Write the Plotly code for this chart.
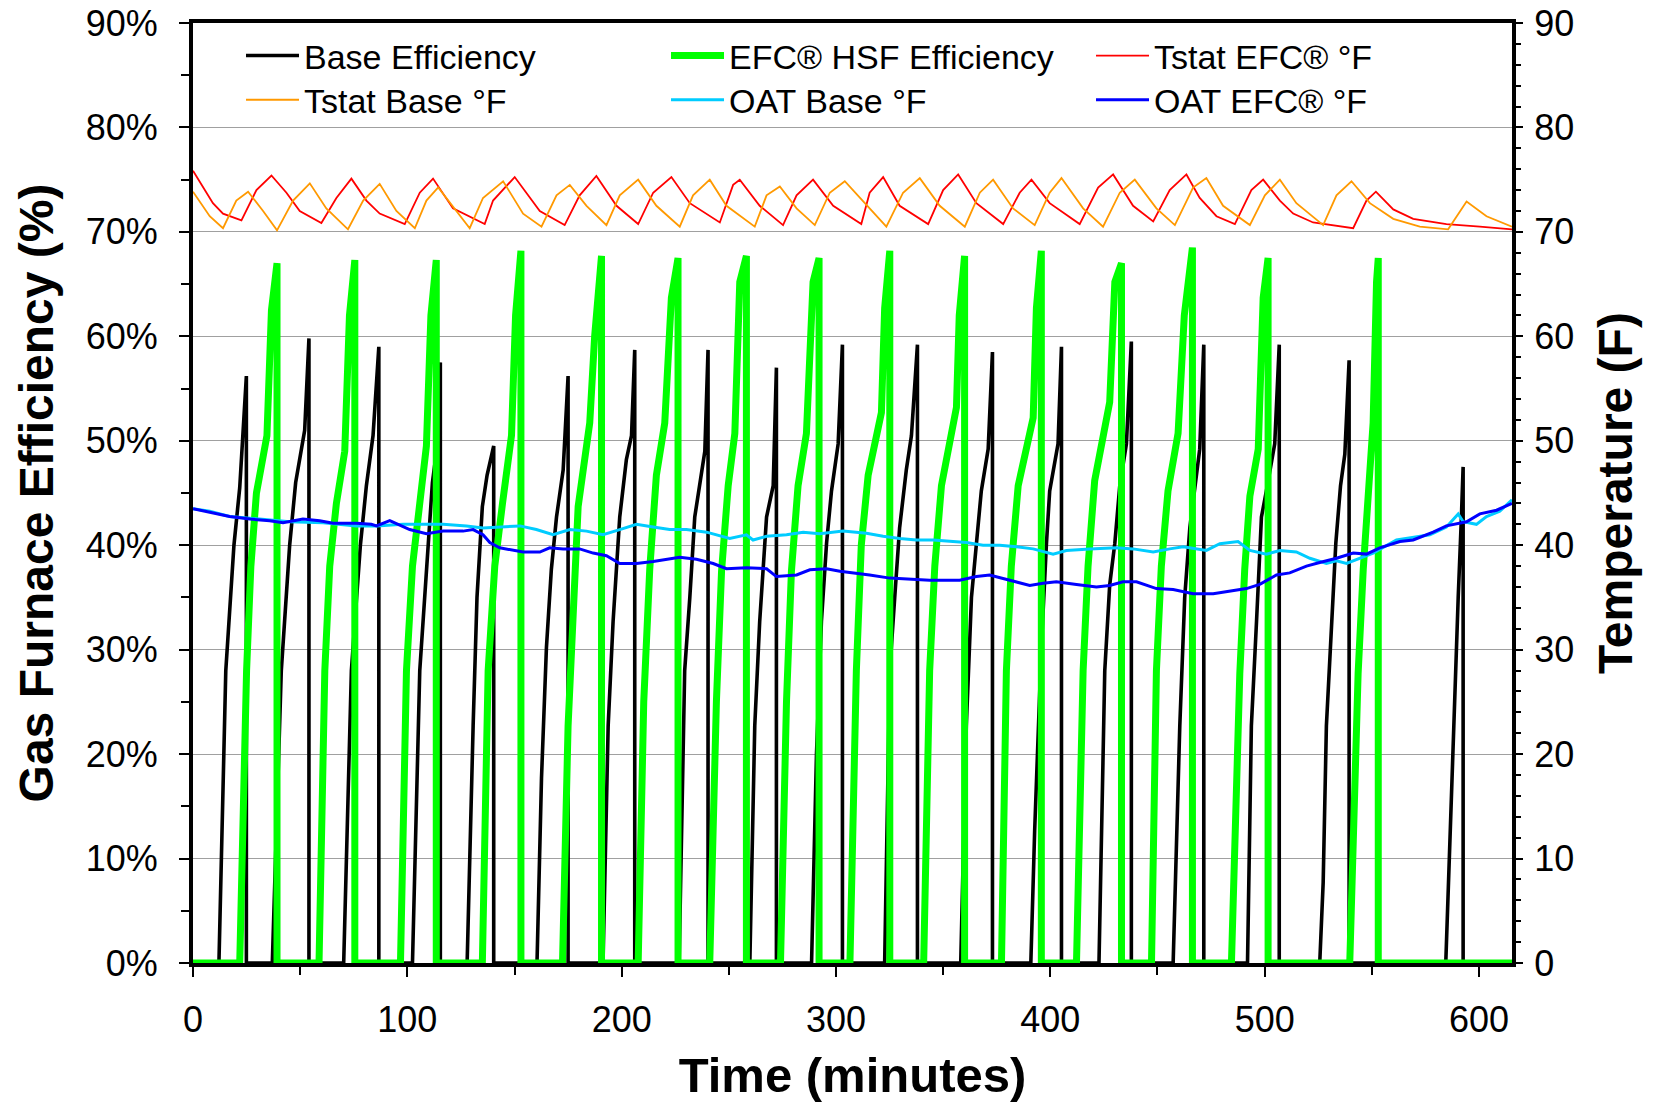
import plotly.graph_objects as go

# ---------------- data ----------------
# Base furnace efficiency (%), one list per firing cycle (time in minutes)
base_cycles_t = [
    [0.0],
    [12.1, 15.3, 19.1, 21.8, 24.9, 24.9],
    [37.0, 41.2, 45.1, 47.9, 52.1, 54.1, 54.1],
    [70.3, 73.9, 78.1, 80.9, 84.0, 86.7, 86.7],
    [102.4, 105.8, 109.7, 111.7, 113.6, 115.4, 115.4],
    [127.9, 130.7, 132.5, 135.0, 137.2, 140.3, 140.3],
    [160.5, 162.6, 164.9, 167.2, 169.6, 172.7, 175.0, 175.0],
    [191.3, 193.7, 196.0, 199.1, 202.2, 204.6, 206.1, 206.1],
    [226.8, 229.4, 231.8, 234.1, 238.8, 240.3, 240.3],
    [259.8, 262.1, 264.4, 267.6, 270.7, 272.2, 272.2],
    [288.6, 290.9, 293.2, 295.6, 297.9, 301.0, 303.0, 303.0],
    [322.7, 325.1, 327.4, 329.7, 332.8, 335.2, 338.0, 338.0],
    [358.2, 360.8, 363.2, 365.5, 367.8, 371.0, 373.0, 373.0],
    [390.9, 392.7, 395.8, 398.2, 399.7, 403.6, 405.2, 405.2],
    [422.7, 425.4, 427.7, 430.1, 432.4, 435.5, 437.8, 437.8],
    [457.3, 460.4, 462.7, 465.1, 467.4, 469.7, 471.6, 471.6],
    [492.0, 493.8, 496.2, 498.5, 500.8, 504.7, 506.8, 506.8],
    [525.7, 527.3, 528.8, 531.2, 533.2, 535.4, 537.4, 539.4, 539.4],
    [584.5, 585.6, 588.0, 590.3, 591.8, 592.6, 592.6],
    [615.4],
]
base_cycles_v = [
    [0],
    [0, 28, 40, 45.5, 56.2, 0],
    [0, 28, 40, 46, 51, 59.8, 0],
    [0, 28, 40, 45.7, 50.5, 59, 0],
    [0, 28, 40, 46, 49, 57.5, 0],
    [0, 22.7, 35, 43.7, 46.7, 49.5, 0],
    [0, 17.7, 30.2, 37.7, 42.7, 47.2, 56.2, 0],
    [0, 22.7, 32.7, 42.7, 48.2, 50.5, 58.7, 0],
    [0, 28, 35, 42.7, 49, 58.7, 0],
    [0, 22.7, 32.7, 42.7, 45.7, 57, 0],
    [0, 20, 32.7, 40.2, 45.2, 49.7, 59.2, 0],
    [0, 28, 35, 41.7, 47.2, 50.5, 59.2, 0],
    [0, 22.7, 35, 40.2, 45.2, 49.2, 58.5, 0],
    [0, 12.7, 30.2, 40.2, 45.2, 49.7, 59, 0],
    [0, 28, 36.2, 40.2, 45.7, 49.7, 59.5, 0],
    [0, 22.7, 35, 41.7, 45.7, 49.2, 59.2, 0],
    [0, 22.7, 32.7, 42.7, 45.2, 49.7, 59.2, 0],
    [0, 7.7, 22.7, 32.7, 40.2, 45.7, 48.7, 57.7, 0],
    [0, 6.7, 22.7, 35, 42.7, 47.5, 0],
    [0],
]

# EFC(R) HSF efficiency (%), one list per firing cycle
efc_cycles_t = [
    [0.0],
    [21.8, 25.0, 27.0, 29.6, 34.5, 36.6, 39.2, 39.2],
    [58.8, 61.5, 63.8, 66.9, 70.8, 73.0, 75.5, 75.5],
    [96.8, 99.6, 102.4, 105.8, 108.9, 111.0, 113.5, 113.5],
    [135.0, 137.7, 140.8, 144.4, 148.6, 150.5, 153.0, 153.0],
    [172.4, 175.0, 177.3, 179.7, 185.1, 187.4, 190.6, 190.6],
    [207.7, 210.3, 213.1, 216.2, 220.1, 223.2, 226.3, 226.3],
    [241.1, 244.2, 246.6, 249.7, 252.8, 255.1, 258.2, 258.2],
    [274.1, 276.9, 279.2, 282.3, 286.2, 289.3, 292.1, 292.1],
    [306.5, 309.5, 311.8, 315.0, 321.2, 322.7, 325.1, 325.1],
    [340.9, 343.7, 346.1, 349.2, 356.2, 357.5, 360.0, 360.0],
    [377.2, 379.5, 381.8, 385.0, 392.0, 393.5, 395.8, 395.8],
    [412.2, 415.3, 417.6, 420.7, 427.7, 430.1, 433.2, 433.2],
    [447.2, 449.5, 451.8, 454.9, 459.6, 462.5, 466.3, 466.3],
    [484.5, 486.1, 488.4, 490.7, 493.1, 497.0, 499.3, 501.6, 501.6],
    [539.7, 541.3, 543.6, 546.0, 548.3, 550.6, 552.2, 553.0, 553.0],
    [615.4],
]
efc_cycles_v = [
    [0],
    [0, 28, 38, 45, 50.5, 62.5, 67, 0],
    [0, 28, 38, 44, 49, 62, 67.3, 0],
    [0, 28, 38, 44, 49.5, 62, 67.3, 0],
    [0, 28, 38, 44, 50.5, 62, 68.2, 0],
    [0, 22.7, 35, 43.7, 51.7, 60, 67.7, 0],
    [0, 25, 37.7, 46.7, 51.7, 63.7, 67.5, 0],
    [0, 25, 37.5, 45.7, 50.7, 65.2, 67.7, 0],
    [0, 25, 37.5, 45.7, 50.7, 65.2, 67.5, 0],
    [0, 28, 40, 46.7, 52.7, 62.7, 68.2, 0],
    [0, 28, 38, 45.7, 53.2, 62, 67.7, 0],
    [0, 28, 38, 45.7, 52.2, 62.7, 68.2, 0],
    [0, 28, 38, 46.2, 53.7, 65.2, 67, 0],
    [0, 28, 38, 45.2, 50.7, 62, 68.5, 0],
    [0, 13, 27.7, 37.7, 44.7, 49.2, 63.7, 67.5, 0],
    [0, 13, 27.7, 37.7, 45.2, 51.7, 65.2, 67.5, 0],
    [0],
]

# Thermostat temperature, EFC(R) run (deg F)
tstat_efc_t = [0, 9.3, 14.0, 22.6, 29.6, 36.6, 43.6, 49.8, 59.9, 66.9, 73.9, 80.9, 87.1,
               98.8, 105.8, 112.0, 121.3, 130.7, 136.1, 140.0, 150.1, 161.8, 173.4, 180.4,
               188.2, 197.6, 207.7, 214.7, 223.2, 231.8, 245.8, 252.0, 255.1, 264.4, 275.3,
               281.6, 289.3, 298.7, 311.8, 315.7, 322.0, 329.7, 343.0, 350.0, 357.0, 365.5,
               378.0, 385.7, 391.2, 399.7, 413.7, 422.3, 429.3, 438.6, 448.0, 455.7, 463.5,
               469.7, 477.5, 486.1, 493.8, 499.3, 507.1, 513.3, 522.6, 541.3, 547.5, 551.9,
               560.0, 569.3, 584.8, 600.4, 615.4]
tstat_efc_v = [75.85, 72.75, 71.75, 71.1, 74.0, 75.4, 73.75, 72.0, 70.85, 73.25, 75.1, 73.0, 71.75,
               70.75, 73.75, 75.1, 72.25, 71.25, 70.75, 73.0, 75.25, 72.0, 70.65, 73.5,
               75.35, 72.5, 70.75, 73.75, 75.25, 72.75, 70.9, 74.5, 75.0, 72.5, 70.65,
               73.5, 75.0, 72.5, 70.75, 73.75, 75.25, 72.5, 70.75, 74.0, 75.5, 72.75,
               70.75, 73.75, 75.0, 72.75, 70.75, 74.25, 75.5, 72.5, 71.0, 74.0, 75.5,
               73.25, 71.5, 70.75, 74.0, 75.0, 73.0, 71.75, 70.9, 70.35, 73.0, 73.85,
               72.15, 71.25, 70.75, 70.5, 70.25]

# Thermostat temperature, base run (deg F)
tstat_base_t = [0, 7.8, 14.0, 20.2, 25.7, 32.7, 39.2, 46.7, 54.5, 62.2, 72.3, 79.4, 87.1,
                94.9, 103.5, 108.9, 114.4, 122.9, 129.1, 135.3, 144.7, 154.0, 162.6, 169.6,
                175.8, 183.6, 192.9, 199.1, 207.7, 216.2, 227.1, 233.3, 241.1, 248.9, 262.1,
                267.6, 273.8, 281.6, 290.1, 297.1, 304.1, 315.7, 323.5, 331.3, 339.1, 348.4,
                360.1, 367.1, 373.3, 382.6, 392.7, 399.7, 405.2, 415.3, 424.6, 432.4, 439.4,
                449.5, 458.1, 466.6, 472.8, 480.6, 493.1, 500.1, 507.1, 514.8, 527.3, 533.5,
                540.5, 549.1, 560.0, 572.4, 585.6, 594.2, 603.5, 615.4]
tstat_base_v = [73.85, 71.5, 70.35, 73.0, 73.85, 72.0, 70.15, 73.0, 74.65, 72.25, 70.25, 73.0, 74.6,
                72.0, 70.35, 73.0, 74.25, 72.0, 70.35, 73.25, 74.85, 71.75, 70.5, 73.5,
                74.5, 72.5, 70.65, 73.5, 75.0, 72.5, 70.5, 73.5, 75.0, 72.5, 70.5,
                73.5, 74.35, 72.25, 70.65, 73.75, 74.85, 72.25, 70.5, 73.75, 75.15, 72.5,
                70.5, 73.75, 75.0, 72.25, 70.65, 73.75, 75.15, 72.25, 70.5, 73.75, 75.0,
                72.25, 70.65, 74.25, 75.15, 72.5, 70.65, 73.5, 75.0, 72.75, 70.65, 73.5,
                74.85, 72.75, 71.25, 70.5, 70.25, 72.9, 71.5, 70.5]

# Outdoor air temperature, base run (deg F)
oat_base_t = [0, 7.8, 17.1, 29.6, 45.1, 60.7, 76.2, 85.6, 98.0, 107.4, 116.7, 127.6, 135.3,
              152.5, 160.2, 168.0, 175.8, 183.6, 191.3, 199.1, 206.9, 214.7, 222.4, 230.2,
              239.6, 250.4, 258.2, 261.3, 267.6, 276.9, 284.7, 292.4, 303.3, 314.2, 322.0,
              329.7, 337.5, 345.3, 353.1, 360.8, 368.6, 376.4, 384.2, 392.0, 401.3, 407.5,
              418.4, 430.8, 438.6, 448.0, 455.7, 462.0, 472.8, 479.1, 487.6, 493.1, 500.8,
              507.1, 514.8, 521.1, 528.8, 533.5, 538.2, 544.4, 550.6, 561.5, 569.3, 577.1,
              584.8, 590.3, 592.6, 598.8, 603.5, 609.7, 615.4]
oat_base_v = [43.5, 43.25, 42.75, 42.5, 42.25, 42.15, 41.85, 41.85, 42.0, 42.0, 42.0, 41.85, 41.65,
              41.85, 41.5, 41.0, 41.5, 41.35, 41.0, 41.5, 42.0, 41.75, 41.5, 41.5,
              41.25, 40.65, 41.0, 40.5, 40.85, 41.0, 41.25, 41.1, 41.35, 41.15, 40.85,
              40.65, 40.5, 40.5, 40.35, 40.25, 40.0, 40.0, 39.85, 39.65, 39.15, 39.5,
              39.65, 39.75, 39.65, 39.35, 39.65, 39.85, 39.5, 40.15, 40.35, 39.5, 39.15,
              39.5, 39.35, 38.75, 38.25, 38.5, 38.25, 38.75, 39.25, 40.5, 40.75, 41.0,
              41.75, 43.0, 42.25, 42.0, 42.75, 43.25, 44.35]

# Outdoor air temperature, EFC(R) run (deg F)
oat_efc_t = [0, 7.8, 17.1, 26.5, 35.8, 42.0, 51.3, 59.1, 65.4, 76.2, 83.2, 85.6, 91.8,
             101.1, 108.9, 116.7, 126.0, 130.7, 135.3, 138.5, 143.1, 154.0, 161.8, 166.4,
             172.7, 180.4, 186.7, 192.9, 199.1, 206.9, 214.7, 227.1, 234.9, 242.7, 248.9,
             258.2, 267.6, 272.2, 281.6, 287.8, 295.6, 301.8, 308.0, 315.7, 325.1, 334.4,
             343.7, 357.7, 365.5, 371.7, 381.1, 390.4, 396.6, 402.8, 412.2, 421.5, 427.7,
             433.9, 440.2, 449.5, 457.3, 466.6, 476.0, 483.7, 491.5, 497.7, 505.5, 511.7,
             519.5, 525.7, 533.5, 541.3, 547.5, 553.7, 563.1, 569.3, 578.6, 584.8, 594.2,
             600.4, 608.2, 615.4]
oat_efc_v = [43.5, 43.15, 42.75, 42.5, 42.35, 42.15, 42.5, 42.35, 42.1, 42.1, 42.0, 41.85, 42.35,
             41.5, 41.1, 41.35, 41.35, 41.5, 41.0, 40.25, 39.75, 39.35, 39.35, 39.75,
             39.65, 39.65, 39.25, 39.0, 38.25, 38.25, 38.45, 38.85, 38.65, 38.25, 37.75,
             37.85, 37.75, 37.0, 37.15, 37.65, 37.75, 37.5, 37.35, 37.15, 36.85, 36.75,
             36.65, 36.65, 37.0, 37.15, 36.65, 36.15, 36.35, 36.5, 36.25, 36.0, 36.15,
             36.5, 36.5, 35.85, 35.75, 35.35, 35.35, 35.6, 35.85, 36.25, 37.15, 37.35,
             38.0, 38.35, 38.75, 39.25, 39.15, 39.75, 40.35, 40.5, 41.25, 41.85, 42.25,
             43.0, 43.35, 44.0]

x_ticks = [0, 100, 200, 300, 400, 500, 600]
y_ticks = [0, 10, 20, 30, 40, 50, 60, 70, 80, 90]
y_left_labels = ["0%", "10%", "20%", "30%", "40%", "50%", "60%", "70%", "80%", "90%"]
y_right_labels = ["0", "10", "20", "30", "40", "50", "60", "70", "80", "90"]


def flatten(parts):
    out = []
    for p in parts:
        out.extend(p)
    return out


base_t, base_v = flatten(base_cycles_t), flatten(base_cycles_v)
efc_t, efc_v = flatten(efc_cycles_t), flatten(efc_cycles_v)

FONT = "Liberation Sans, Arial, sans-serif"

fig = go.Figure()
fig.add_trace(go.Scatter(x=base_t, y=base_v, mode="lines", name="Base Efficiency",
                         line=dict(color="#000000", width=3.6), legend="legend"))
fig.add_trace(go.Scatter(x=efc_t, y=efc_v, mode="lines", name="EFC® HSF Efficiency",
                         line=dict(color="#00FF00", width=7), legend="legend"))
fig.add_trace(go.Scatter(x=tstat_efc_t, y=tstat_efc_v, mode="lines", name="Tstat EFC® °F",
                         line=dict(color="#FF0000", width=1.8), yaxis="y2", legend="legend"))
fig.add_trace(go.Scatter(x=tstat_base_t, y=tstat_base_v, mode="lines", name="Tstat Base °F",
                         line=dict(color="#FF9900", width=1.8), yaxis="y2", legend="legend2"))
fig.add_trace(go.Scatter(x=oat_base_t, y=oat_base_v, mode="lines", name="OAT Base °F",
                         line=dict(color="#00CCFF", width=3), yaxis="y2", legend="legend2"))
fig.add_trace(go.Scatter(x=oat_efc_t, y=oat_efc_v, mode="lines", name="OAT EFC® °F",
                         line=dict(color="#0000FF", width=3), yaxis="y2", legend="legend2"))

legend_common = dict(orientation="h", xanchor="left", yanchor="top",
                     bgcolor="rgba(0,0,0,0)", borderwidth=0,
                     font=dict(family=FONT, size=34, color="black"),
                     itemwidth=53, entrywidth=357, entrywidthmode="pixels",
                     itemclick=False, itemdoubleclick=False)

fig.update_layout(
    template="none",
    width=1657, height=1102,
    margin=dict(l=193, r=145, t=23, b=139, autoexpand=False),
    paper_bgcolor="white", plot_bgcolor="white",
    font=dict(family=FONT, color="black"),
    showlegend=True,
    legend=dict(x=0.0364, y=0.9958, **legend_common),
    legend2=dict(x=0.0364, y=0.9488, **legend_common),
    xaxis=dict(
        range=[0, 615.4], tickmode="array", tickvals=x_ticks, ticks="outside", ticklen=10, tickwidth=2,
        tickcolor="black", showline=True, linewidth=4, linecolor="black", mirror=True,
        showgrid=False, zeroline=False, layer="below traces", automargin=False,
        ticklabeloverflow="allow",
        tickfont=dict(family=FONT, size=36, color="black"), ticklabelstandoff=12,
        minor=dict(dtick=50, ticks="outside", ticklen=8, tickwidth=2, tickcolor="black", showgrid=False),
        title=dict(text="<b>Time (minutes)</b>", font=dict(family=FONT, size=49, color="black"), standoff=21),
    ),
    yaxis=dict(
        range=[0, 90], tickmode="array", tickvals=y_ticks, ticktext=y_left_labels,
        ticks="outside", ticklen=10, tickwidth=2,
        tickcolor="black", showline=True, linewidth=4, linecolor="black", mirror=True,
        showgrid=True, gridcolor="#a0a0a0", gridwidth=1, zeroline=False, layer="below traces",
        automargin=False, ticklabeloverflow="allow",
        tickfont=dict(family=FONT, size=36, color="black"), ticklabelstandoff=14,
        minor=dict(dtick=5, ticks="outside", ticklen=8, tickwidth=2, tickcolor="black", showgrid=False),
        title=dict(text="<b>Gas Furnace Efficiency (%)</b>", font=dict(family=FONT, size=48, color="black"), standoff=18),
    ),
    yaxis2=dict(
        range=[0, 90], tickmode="array", tickvals=y_ticks, ticktext=y_right_labels,
        overlaying="y", side="right", ticks="outside", ticklen=10,
        tickwidth=2, tickcolor="black", showline=False, showgrid=False, zeroline=False,
        automargin=False, ticklabeloverflow="allow",
        tickfont=dict(family=FONT, size=36, color="black"), ticklabelstandoff=4,
        minor=dict(dtick=2, ticks="outside", ticklen=8, tickwidth=2, tickcolor="black", showgrid=False),
        title=dict(text="<b>Temperature (F)</b>", font=dict(family=FONT, size=48, color="black"), standoff=25),
    ),
)

# remove the browser's default 8px body margin so the figure fills the window exactly
fig.write_html("out.html", config={"displayModeBar": False},
               post_script="document.body.style.margin='0';")
